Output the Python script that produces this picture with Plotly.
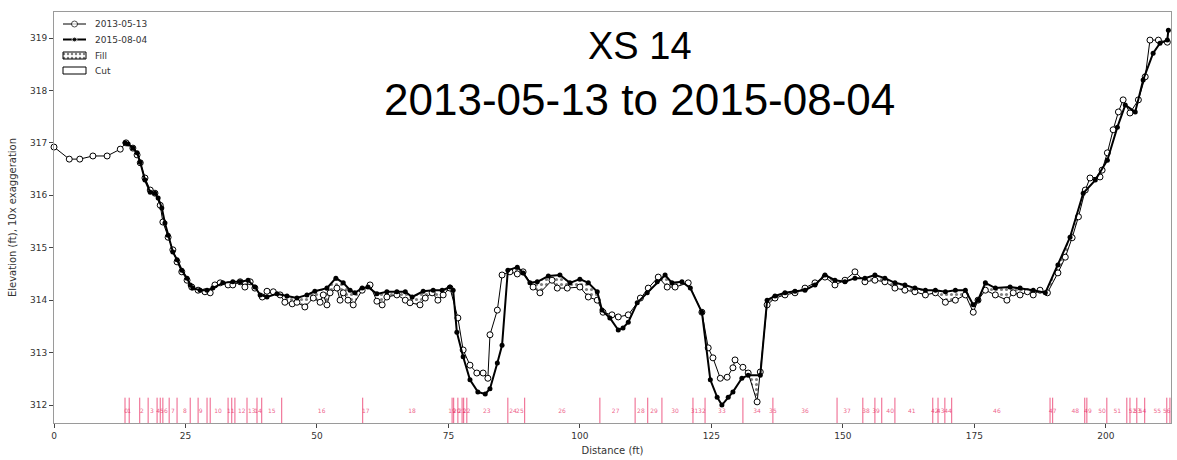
import numpy as np
import plotly.graph_objects as go

# ---- survey 2013-05-13 (distance ft, elevation ft) ----
d13 = [0.0, 2.9, 4.9, 7.4, 10.1, 12.6, 13.7, 15.0, 15.8, 16.4, 17.3, 18.3, 19.2, 20.2, 20.7, 21.7,
       22.6, 23.4, 24.3, 25.3, 26.2, 27.4, 28.7, 29.7, 30.6, 31.6, 33.1, 34.0, 35.4, 36.3, 37.3, 38.2,
       39.6, 40.5, 41.7, 43.0, 43.9, 45.3, 46.2, 47.7, 49.3, 50.6, 51.2, 51.9, 52.5, 53.8, 54.4, 55.0,
       55.9, 56.9, 58.6, 60.1, 61.4, 62.4, 63.3, 65.2, 66.8, 67.7, 69.6, 70.6, 71.9, 73.0, 74.0, 75.3,
       76.8, 77.8, 79.1, 80.4, 81.6, 82.5, 82.9, 84.3, 85.2, 86.7, 88.1, 89.2, 91.1, 92.4, 94.7, 95.7,
       97.6, 100.0, 101.6, 103.3, 104.4, 106.1, 107.3, 109.2, 111.5, 113.0, 114.9, 116.6, 118.1, 120.6,
       123.2, 124.4, 125.3, 126.7, 128.0, 129.1, 129.5, 131.0, 132.0, 133.7, 134.3, 135.6, 137.1, 139.0,
       140.9, 142.8, 144.7, 146.6, 148.5, 150.4, 152.3, 154.2, 156.1, 158.0, 159.9, 161.8, 163.7, 165.7,
       167.6, 169.5, 171.4, 173.3, 174.8, 175.7, 177.1, 179.0, 181.2, 182.4, 183.7, 185.1, 186.2, 187.5,
       188.9, 190.9, 192.3, 193.6, 194.8, 196.1, 197.0, 198.9, 199.3, 200.3, 201.4, 202.4, 203.3, 204.6,
       206.2, 207.5, 208.4, 210.0, 211.7]
z13 = [316.92, 316.69, 316.69, 316.75, 316.75, 316.88, 317.00, 316.90, 316.77, 316.62, 316.33, 316.10,
       316.04, 315.81, 315.49, 315.20, 314.96, 314.73, 314.54, 314.38, 314.25, 314.19, 314.16, 314.14,
       314.29, 314.33, 314.29, 314.29, 314.35, 314.25, 314.35, 314.23, 314.06, 314.17, 314.16, 314.10,
       313.96, 313.93, 313.96, 313.87, 314.04, 313.96, 314.10, 313.91, 314.14, 314.23, 314.00, 314.14,
       314.00, 313.91, 314.19, 314.29, 313.98, 313.91, 314.06, 314.10, 314.00, 313.95, 313.91, 314.04,
       314.14, 314.00, 314.10, 314.23, 313.66, 313.05, 312.76, 312.61, 312.61, 312.51, 313.34, 313.81,
       314.48, 314.54, 314.50, 314.54, 314.25, 314.14, 314.38, 314.23, 314.23, 314.25, 314.06, 314.00,
       313.77, 313.72, 313.68, 313.72, 314.04, 314.23, 314.44, 314.25, 314.25, 314.33, 313.77, 313.09,
       312.90, 312.51, 312.53, 312.71, 312.86, 312.72, 312.61, 312.06, 312.63, 313.91, 314.04, 314.10,
       314.14, 314.23, 314.33, 314.44, 314.29, 314.38, 314.54, 314.35, 314.38, 314.35, 314.23, 314.19,
       314.16, 314.10, 314.14, 313.96, 314.00, 314.10, 313.77, 314.00, 314.19, 314.10, 314.00, 314.14,
       314.10, 314.16, 314.10, 314.19, 314.14, 314.52, 314.82, 315.19, 315.59, 316.10, 316.33, 316.35,
       316.48, 316.81, 317.25, 317.59, 317.82, 317.57, 317.82, 318.26, 318.96, 318.96, 318.92]

# ---- survey 2015-08-04 ----
d15 = [13.5, 14.1, 15.0, 15.8, 16.4, 17.3, 18.3, 19.2, 19.8, 20.5, 21.1, 21.7, 22.6, 23.4, 24.3, 25.3,
       25.9, 26.4, 27.8, 29.1, 30.2, 32.1, 34.0, 35.4, 36.9, 38.2, 39.2, 40.5, 42.4, 44.3, 46.2, 48.1,
       49.6, 51.9, 53.6, 55.0, 56.3, 57.2, 58.6, 59.7, 61.4, 63.3, 65.2, 66.8, 68.1, 70.2, 72.1, 73.8,
       75.3, 75.9, 76.6, 77.8, 79.1, 80.6, 82.0, 82.9, 84.3, 85.2, 86.3, 88.1, 89.2, 90.5, 91.9, 94.0,
       96.2, 98.1, 100.0, 101.6, 103.3, 104.2, 105.7, 107.3, 108.2, 109.2, 110.9, 112.8, 114.7, 116.2,
       117.5, 119.4, 121.0, 123.2, 124.8, 126.1, 127.0, 128.2, 129.1, 130.8, 132.0, 134.3, 135.6, 137.1,
       139.0, 140.9, 142.8, 144.7, 146.6, 148.5, 150.4, 152.3, 154.2, 156.1, 158.0, 159.9, 161.8, 163.7,
       165.7, 167.6, 169.5, 171.4, 173.3, 174.8, 175.7, 177.1, 179.0, 181.8, 183.7, 186.2, 188.5, 190.9,
       193.2, 195.7, 198.0, 200.3, 202.2, 203.7, 205.6, 207.1, 209.0, 210.3, 211.7, 211.9]
z15 = [317.00, 316.98, 316.90, 316.81, 316.63, 316.29, 316.06, 316.04, 315.95, 315.76, 315.47, 315.24,
       314.92, 314.77, 314.57, 314.42, 314.29, 314.23, 314.19, 314.19, 314.23, 314.33, 314.35, 314.35,
       314.38, 314.25, 314.10, 314.06, 314.12, 314.08, 314.04, 314.10, 314.17, 314.23, 314.42, 314.33,
       314.19, 314.14, 314.23, 314.25, 314.12, 314.16, 314.16, 314.16, 314.06, 314.17, 314.19, 314.19,
       314.25, 314.19, 313.39, 312.92, 312.48, 312.25, 312.21, 312.31, 312.80, 313.14, 314.57, 314.63,
       314.52, 314.33, 314.35, 314.46, 314.48, 314.33, 314.40, 314.33, 314.16, 313.81, 313.66, 313.43,
       313.47, 313.58, 313.95, 314.14, 314.35, 314.48, 314.33, 314.35, 314.23, 313.77, 312.48, 312.15,
       312.00, 312.15, 312.25, 312.51, 312.57, 312.57, 314.00, 314.08, 314.14, 314.17, 314.19, 314.29,
       314.48, 314.38, 314.35, 314.42, 314.42, 314.48, 314.42, 314.33, 314.29, 314.23, 314.19, 314.19,
       314.16, 314.19, 314.19, 313.91, 314.00, 314.33, 314.23, 314.25, 314.23, 314.19, 314.14, 314.67,
       315.20, 316.04, 316.29, 316.67, 317.30, 317.72, 317.59, 318.20, 318.71, 318.90, 318.96, 319.15]

# ---- cut/fill polygon boundaries and their labels (ft) ----
bnd = [13.5, 14.3, 16.3, 17.9, 19.6, 20.2, 20.7, 21.9, 23.4, 25.9, 27.4, 29.1, 29.7, 33.1, 33.8, 34.4,
       36.7, 38.6, 39.5, 43.3, 58.7, 75.7, 76.0, 76.8, 77.6, 77.9, 78.5, 86.3, 89.5, 103.8, 110.5, 112.9,
       115.6, 121.5, 123.8, 131.0, 136.7, 148.9, 153.8, 156.1, 157.4, 159.9, 167.1, 168.1, 169.4, 170.7,
       189.4, 189.9, 196.0, 196.4, 200.2, 204.0, 204.6, 205.9, 207.4, 211.6, 212.2]
lab_x = [13.7, 14.3, 16.7, 18.6, 19.8, 20.5, 21.3, 22.6, 24.9, 27.9, 31.2, 33.6, 35.7, 37.6, 38.8, 41.4,
         50.9, 59.3, 68.1, 75.7, 76.6, 77.6, 78.5, 82.3, 87.3, 88.6, 96.6, 106.8, 111.6, 114.1, 118.1,
         121.8, 123.2, 127.0, 133.7, 136.7, 142.8, 150.8, 154.4, 156.3, 159.0, 163.1, 167.5, 168.6,
         170.0, 179.3, 189.9, 194.2, 196.6, 199.3, 202.2, 205.1, 206.0, 207.0, 209.8, 211.6]
lab_t = ["0", "1", "2", "3", "4", "5", "6", "7", "8", "9", "10", "11", "12", "13", "14", "15",
         "16", "17", "18", "19", "20", "21", "22", "23", "24", "25", "26", "27", "28", "29", "30",
         "31", "32", "33", "34", "35", "36", "37", "38", "39", "40", "41", "42", "43",
         "44", "46", "47", "48", "49", "50", "51", "52", "53", "54", "55", "56"]

x_ticks = [0, 25, 50, 75, 100, 125, 150, 175, 200]
y_ticks = [312, 313, 314, 315, 316, 317, 318, 319]
legend_names = ["2013-05-13", "2015-08-04", "Fill", "Cut"]

X_RANGE = [0, 212.4]
Y_RANGE = [311.657, 319.496]
MARK_BOTTOM, MARK_TOP, LABEL_Y = 311.657, 312.14, 311.87

# ---- layout geometry (pixels) ----
W, H = 1177, 460
ML, MR, MT, MB = 54, 6, 12, 37
PW, PH = W - ML - MR, H - MT - MB


def px_x(px):
    return (px - ML) / PW


def px_y(py):
    return (H - MB - py) / PH


# ---- fill (2015 above 2013) polygon from the two profiles ----
lo = max(min(d13), min(d15))
hi = min(max(d13), max(d15))
grid = np.union1d(d13, d15)
grid = grid[(grid >= lo) & (grid <= hi)]
a = np.interp(grid, d13, z13)
b = np.interp(grid, d15, z15)
xs, ya, yb = [grid[0]], [a[0]], [b[0]]
for i in range(1, len(grid)):
    da = b[i - 1] - a[i - 1]
    db = b[i] - a[i]
    if da * db < 0:
        t = da / (da - db)
        xc = grid[i - 1] + t * (grid[i] - grid[i - 1])
        zc = a[i - 1] + t * (a[i] - a[i - 1])
        xs.append(xc); ya.append(zc); yb.append(zc)
    xs.append(grid[i]); ya.append(a[i]); yb.append(b[i])
upper = np.maximum(ya, yb)

RED = "rgba(232,40,95,0.75)"
pattern = dict(shape=".", fgcolor="black", bgcolor="white", size=5, solidity=0.3)

fig = go.Figure()

# red boundary marks
bx, by = [], []
for v in bnd:
    bx += [v, v, None]
    by += [MARK_BOTTOM, MARK_TOP, None]
fig.add_trace(go.Scatter(x=bx, y=by, mode="lines", line=dict(color=RED, width=1),
                         showlegend=False, hoverinfo="skip"))
fig.add_trace(go.Scatter(x=lab_x, y=[LABEL_Y] * len(lab_x), mode="text", text=lab_t,
                         textfont=dict(size=6, color=RED, family="DejaVu Sans"),
                         showlegend=False, hoverinfo="skip"))

# fill area
fig.add_trace(go.Scatter(x=xs, y=ya, mode="lines", line=dict(width=0),
                         showlegend=False, hoverinfo="skip"))
fig.add_trace(go.Scatter(x=xs, y=upper, mode="lines", line=dict(width=0), fill="tonexty",
                         fillcolor="white", fillpattern=pattern,
                         showlegend=False, hoverinfo="skip"))

# profiles
fig.add_trace(go.Scatter(x=d13, y=z13, mode="lines+markers", name=legend_names[0],
                         line=dict(color="black", width=1),
                         marker=dict(symbol="circle", size=6, color="white",
                                     line=dict(color="black", width=1)),
                         cliponaxis=False, showlegend=False))
fig.add_trace(go.Scatter(x=d15, y=z15, mode="lines+markers", name=legend_names[1],
                         line=dict(color="black", width=2),
                         marker=dict(symbol="circle", size=5, color="black"),
                         showlegend=False))

# ---- legend (drawn on an overlay axis in plot-fraction units) ----
LEG_X0, LEG_X1, LEG_TX = 63, 86, 93
LEG_ROWS = [24, 39.5, 55.5, 70.5]
BOX_H = 7
lx0, lx1 = px_x(LEG_X0), px_x(LEG_X1)
lxm = (lx0 + lx1) / 2
leg_axes = dict(xaxis="x2", yaxis="y2", showlegend=False, hoverinfo="skip", cliponaxis=False)
fig.add_trace(go.Scatter(x=[lx0, lxm, lx1], y=[px_y(LEG_ROWS[0])] * 3, mode="lines+markers",
                         line=dict(color="black", width=1),
                         marker=dict(size=[0, 6, 0], color="white", line=dict(color="black", width=1)),
                         **leg_axes))
fig.add_trace(go.Scatter(x=[lx0, lxm, lx1], y=[px_y(LEG_ROWS[1])] * 3, mode="lines+markers",
                         line=dict(color="black", width=2),
                         marker=dict(size=[0, 5, 0], color="black"), **leg_axes))
for row, pat in [(LEG_ROWS[2], pattern), (LEG_ROWS[3], None)]:
    yt, yb_ = px_y(row - BOX_H / 2), px_y(row + BOX_H / 2)
    kw = dict(fillpattern=dict(shape=".", fgcolor="black", bgcolor="white", size=4, solidity=0.3)) if pat else {}
    fig.add_trace(go.Scatter(x=[lx0, lx1, lx1, lx0, lx0], y=[yb_, yb_, yt, yt, yb_], mode="lines",
                             fill="toself", fillcolor="white", line=dict(color="black", width=1),
                             **kw, **leg_axes))
for name, row in zip(legend_names, LEG_ROWS):
    fig.add_annotation(text=name, xref="x2", yref="y2", x=px_x(LEG_TX), y=px_y(row),
                       xanchor="left", yanchor="middle", showarrow=False,
                       font=dict(family="DejaVu Sans", size=9, color="#333"))

axis_common = dict(showgrid=False, zeroline=False, showline=True, mirror=True,
                   linecolor="#9a9a9a", linewidth=1, ticks="outside", ticklen=4,
                   tickcolor="#444", tickfont=dict(family="DejaVu Sans", size=9, color="#333"))

fig.update_xaxes(range=X_RANGE, tickvals=x_ticks,
                 title=dict(text="Distance (ft)", font=dict(family="DejaVu Sans", size=10, color="#333"),
                            standoff=7),
                 **axis_common)
fig.update_yaxes(range=Y_RANGE, tickvals=y_ticks,
                 title=dict(text="Elevation (ft), 10x exaggeration",
                            font=dict(family="DejaVu Sans", size=10, color="#333"), standoff=11),
                 **axis_common)

fig.add_annotation(text="XS 14", xref="paper", yref="paper", x=0.5246, y=0.917,
                   showarrow=False, xanchor="center", yanchor="middle",
                   font=dict(family="Liberation Sans", size=38, color="black"))
fig.add_annotation(text="2013-05-13 to 2015-08-04", xref="paper", yref="paper", x=0.5246, y=0.786,
                   showarrow=False, xanchor="center", yanchor="middle",
                   font=dict(family="Liberation Sans", size=44, color="black"))

fig.update_layout(
    width=W, height=H,
    margin=dict(l=ML, r=MR, t=MT, b=MB),
    plot_bgcolor="white", paper_bgcolor="white",
    showlegend=False,
    xaxis2=dict(overlaying="x", range=[0, 1], visible=False, fixedrange=True),
    yaxis2=dict(overlaying="y", range=[0, 1], visible=False, fixedrange=True),
)

fig.write_html("out.html")
